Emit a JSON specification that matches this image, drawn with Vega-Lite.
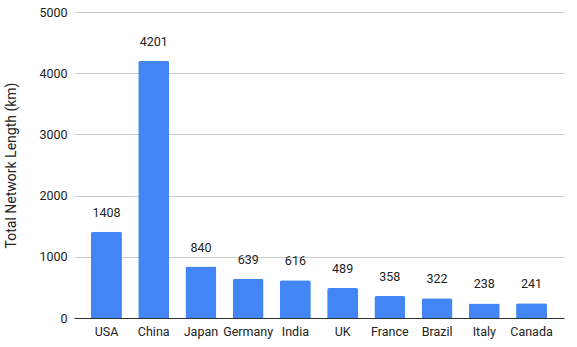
{
  "$schema": "https://vega.github.io/schema/vega-lite/v6.json",
  "width": 577,
  "height": 347,
  "autosize": {"type": "fit", "contains": "padding"},
  "padding": {"left": 4, "right": 13, "top": 6, "bottom": 9},
  "config": {
    "font": "Roboto",
    "view": {"stroke": null},
    "axis": {"labelFont": "Roboto", "titleFont": "Roboto", "labelColor": "#222222", "titleColor": "#222222", "labelFontSize": 12, "titleFontSize": 14, "titleFontWeight": "normal"}
  },
  "data": {
    "values": [
      {"country": "USA", "length": 1408},
      {"country": "China", "length": 4201},
      {"country": "Japan", "length": 840},
      {"country": "Germany", "length": 639},
      {"country": "India", "length": 616},
      {"country": "UK", "length": 489},
      {"country": "France", "length": 358},
      {"country": "Brazil", "length": 322},
      {"country": "Italy", "length": 238},
      {"country": "Canada", "length": 241}
    ]
  },
  "encoding": {
    "x": {
      "field": "country", "type": "nominal", "sort": null,
      "scale": {"paddingInner": 0.345, "paddingOuter": 0.36},
      "axis": {"title": null, "labelAngle": 0, "ticks": false, "domain": true, "domainColor": "#333333", "domainWidth": 1, "labelPadding": 7, "labelFontSize": 12.5}
    },
    "y": {
      "field": "length", "type": "quantitative",
      "scale": {"domain": [0, 5000], "nice": false},
      "axis": {"title": "Total Network Length (km)", "values": [0, 1000, 2000, 3000, 4000, 5000], "format": "d", "labelOverlap": false, "grid": true, "ticks": false, "domain": false, "gridColor": "#cccccc", "labelPadding": 7, "titlePadding": 20, "labelFontSize": 12.5}
    }
  },
  "layer": [
    {"mark": {"type": "bar", "color": "#4285F4", "cornerRadiusTopLeft": 2, "cornerRadiusTopRight": 2}},
    {"mark": {"type": "text", "baseline": "bottom", "dy": -12, "fontSize": 12.5, "color": "#222222"},
     "encoding": {"text": {"field": "length", "type": "quantitative", "format": "d"}}}
  ]
}
